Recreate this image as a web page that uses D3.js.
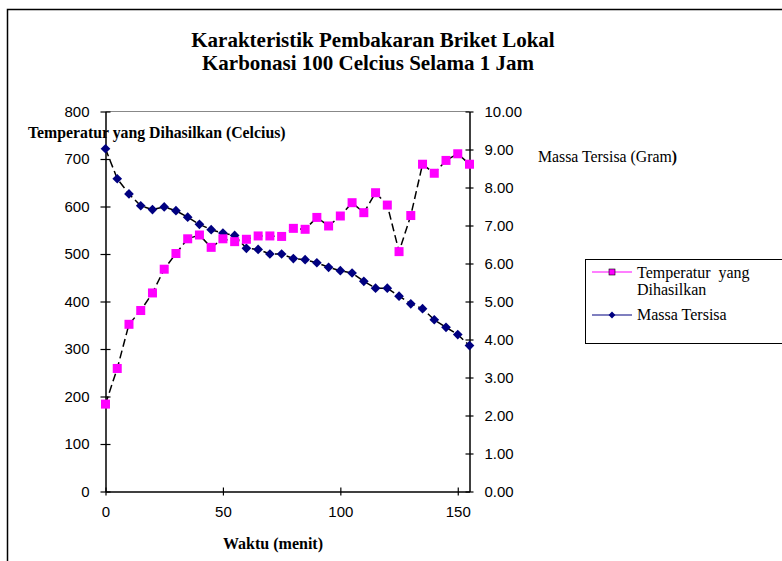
<!DOCTYPE html>
<html>
<head>
<meta charset="utf-8">
<script src="https://cdn.jsdelivr.net/npm/d3@7"></script>
<style>
  body { margin: 0; background: #fff; }
  svg { display: block; }
  .tick text { font-family: "Liberation Sans", Arial, sans-serif; font-size: 15px; fill: #000; }
</style>
</head>
<body>
<svg id="chart" width="782" height="561"></svg>
<script>
// waktu (menit)
var waktu = [0, 5, 10, 15, 20, 25, 30, 35, 40, 45, 50, 55, 60, 65, 70, 75,
             80, 85, 90, 95, 100, 105, 110, 115, 120, 125, 130, 135, 140, 145, 150, 155];
// temperatur (Celcius)
var temperatur = [184, 259, 352, 381, 418, 468, 501, 532, 540, 514, 532, 526, 531, 538, 538, 537,
                  554, 552, 577, 559, 580, 608, 587, 629, 603, 505, 581, 689, 670, 697, 711, 689];
// massa tersisa (gram)
var massa = [9.02, 8.23, 7.83, 7.52, 7.42, 7.49, 7.39, 7.22, 7.03, 6.89, 6.80, 6.74, 6.40, 6.37, 6.25, 6.25,
             6.13, 6.10, 6.02, 5.90, 5.81, 5.75, 5.53, 5.35, 5.35, 5.14, 4.94, 4.81, 4.52, 4.32, 4.13, 3.84];
var xTicks = [0, 50, 100, 150];
var yLeftTicks = d3.range(0, 801, 100);
var yRightTicks = d3.range(0, 10.01, 1);

var svg = d3.select("#chart");
var serif = '"Liberation Serif", "Times New Roman", serif';

// outer frame
svg.append("rect").attr("x", 7.5).attr("y", 9.5).attr("width", 800).attr("height", 600)
  .attr("fill", "none").attr("stroke", "#000").attr("stroke-width", 1.5);

var plotL = 105.5, plotR = 469.5, plotT = 111.5, plotB = 491.5;

var x = d3.scaleLinear().domain([0, 155]).range([plotL, plotR]);
var yL = d3.scaleLinear().domain([0, 800]).range([plotB, plotT]);
var yR = d3.scaleLinear().domain([0, 10]).range([plotB, plotT]);

// plot area top border
svg.append("line").attr("x1", plotL).attr("x2", plotR).attr("y1", plotT).attr("y2", plotT)
  .attr("stroke", "#888").attr("stroke-width", 1);

// axes
var gx = svg.append("g").attr("transform", "translate(0," + plotB + ")")
  .call(d3.axisBottom(x).tickValues(xTicks).tickSize(4).tickPadding(11).tickSizeOuter(0));
gx.selectAll(".tick line").attr("y1", -4);

var gl = svg.append("g").attr("transform", "translate(" + plotL + ",0)")
  .call(d3.axisLeft(yL).tickValues(yLeftTicks).tickSize(5).tickPadding(11).tickSizeOuter(0));
gl.selectAll(".tick line").attr("x1", 5);

var gr = svg.append("g").attr("transform", "translate(" + plotR + ",0)")
  .call(d3.axisRight(yR).tickValues(yRightTicks).tickSize(4).tickPadding(11).tickSizeOuter(0)
    .tickFormat(d3.format(".2f")));
gr.selectAll(".tick line").attr("x1", -4);

svg.selectAll(".domain").attr("stroke", "#000").attr("stroke-width", 1.5);
svg.selectAll(".tick line").attr("stroke", "#000").attr("stroke-width", 1.2);

// lines
var tempLine = d3.line().x(function(d, i) { return x(waktu[i]); }).y(function(d) { return yL(d); });
var massaLine = d3.line().x(function(d, i) { return x(waktu[i]); }).y(function(d) { return yR(d); });

svg.append("path").datum(temperatur).attr("d", tempLine)
  .attr("fill", "none").attr("stroke", "#000").attr("stroke-width", 1.5).attr("stroke-dasharray", "8,4");
svg.append("path").datum(massa).attr("d", massaLine)
  .attr("fill", "none").attr("stroke", "#000").attr("stroke-width", 1.5).attr("stroke-dasharray", "8,4");

// markers
var diamond = d3.symbol().type(d3.symbolDiamond2).size(60);
svg.append("g").selectAll("path").data(massa).enter().append("path")
  .attr("d", diamond)
  .attr("transform", function(d, i) { return "translate(" + x(waktu[i]) + "," + yR(d) + ")"; })
  .attr("fill", "#000080");

svg.append("g").selectAll("rect").data(temperatur).enter().append("rect")
  .attr("x", function(d, i) { return x(waktu[i]) - 4.5; })
  .attr("y", function(d) { return yL(d) - 4.5; })
  .attr("width", 9).attr("height", 9)
  .attr("fill", "#FF00FF");

// titles
var title = svg.append("text").attr("text-anchor", "middle")
  .attr("font-family", serif).attr("font-weight", "bold").attr("font-size", 21);
title.append("tspan").attr("x", 373).attr("y", 47).text("Karakteristik Pembakaran Briket Lokal");
title.append("tspan").attr("x", 368).attr("y", 70).text("Karbonasi 100 Celcius Selama 1 Jam");

svg.append("text").attr("x", 28).attr("y", 138)
  .attr("font-family", serif).attr("font-weight", "bold").attr("font-size", 15.8)
  .text("Temperatur yang Dihasilkan (Celcius)");

var rl = svg.append("text").attr("x", 538).attr("y", 162)
  .attr("font-family", serif).attr("font-size", 15.8);
rl.append("tspan").text("Massa Tersisa (Gram");
rl.append("tspan").attr("font-weight", "bold").text(")");

svg.append("text").attr("x", 273).attr("y", 549).attr("text-anchor", "middle")
  .attr("font-family", serif).attr("font-weight", "bold").attr("font-size", 16)
  .text("Waktu (menit)");

// legend
var lg = svg.append("g");
lg.append("rect").attr("x", 585.5).attr("y", 259.5).attr("width", 220).attr("height", 84)
  .attr("fill", "#fff").attr("stroke", "#000").attr("stroke-width", 1);

lg.append("line").attr("x1", 592).attr("x2", 632).attr("y1", 272).attr("y2", 272)
  .attr("stroke", "#FF00FF").attr("stroke-width", 1.2);
lg.append("rect").attr("x", 609).attr("y", 269).attr("width", 6).attr("height", 6)
  .attr("fill", "#FF00FF").attr("stroke", "#000").attr("stroke-width", 0.6);
lg.append("line").attr("x1", 592).attr("x2", 632).attr("y1", 315).attr("y2", 315)
  .attr("stroke", "#000080").attr("stroke-width", 1.2);
lg.append("path").attr("d", d3.symbol().type(d3.symbolDiamond2).size(30))
  .attr("transform", "translate(612,315)").attr("fill", "#000080");

var lt = lg.append("text").attr("font-family", serif).attr("font-size", 16).attr("fill", "#000");
lt.append("tspan").attr("x", 637).attr("y", 278).attr("xml:space", "preserve").text("Temperatur  yang");
lt.append("tspan").attr("x", 637).attr("y", 295).text("Dihasilkan");
lg.append("text").attr("x", 637).attr("y", 320).attr("font-family", serif).attr("font-size", 16)
  .text("Massa Tersisa");
</script>
</body>
</html>
